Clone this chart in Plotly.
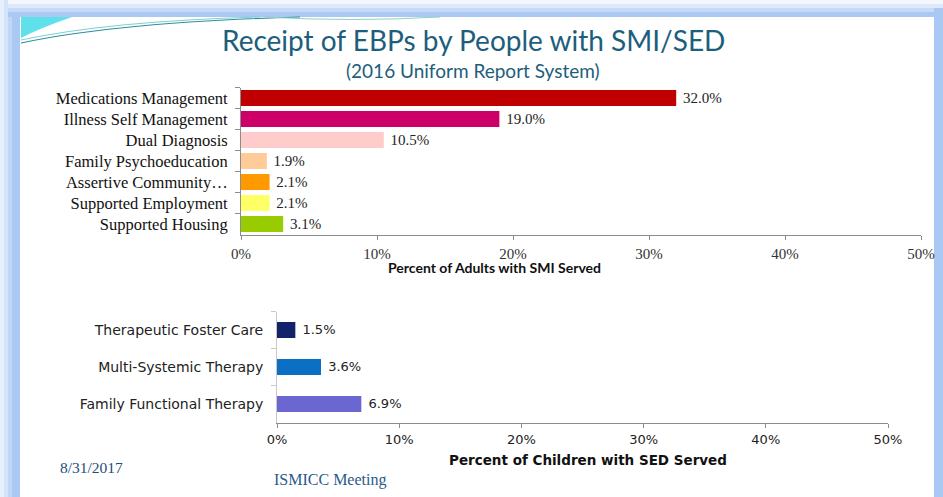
import plotly.graph_objects as go

W, H = 943, 497

# ---------------- data ----------------
adult_categories = ["Medications Management", "Illness Self Management", "Dual Diagnosis",
                    "Family Psychoeducation", "Assertive Community…", "Supported Employment",
                    "Supported Housing"]
adult_values = [32.0, 19.0, 10.5, 1.9, 2.1, 2.1, 3.1]
adult_colors = ["#c00000", "#cc0066", "#ffcccc", "#ffcc99", "#ff9900", "#ffff66", "#99cc00"]

child_categories = ["Therapeutic Foster Care", "Multi-Systemic Therapy", "Family Functional Therapy"]
child_values = [1.5, 3.6, 6.9]
child_colors = ["#14216b", "#0a70c4", "#6b66d0"]

tick_values = [0, 10, 20, 30, 40, 50]
tick_labels = ["0%", "10%", "20%", "30%", "40%", "50%"]


def X(px):
    return px / W


def Y(py):
    return 1 - py / H


fig = go.Figure()

fig.add_trace(go.Bar(
    x=adult_values, y=adult_categories, orientation="h",
    marker=dict(color=adult_colors, line=dict(width=0)),
    width=0.76,
    text=[f" {v:.1f}%" for v in adult_values], textposition="outside",
    textfont=dict(family="Liberation Serif", size=16, color="#222222"),
    cliponaxis=False, xaxis="x", yaxis="y", hoverinfo="skip",
))

fig.add_trace(go.Bar(
    x=child_values, y=child_categories, orientation="h",
    marker=dict(color=child_colors, line=dict(width=0)),
    width=0.43,
    text=[f" {v:.1f}%" for v in child_values], textposition="outside",
    textfont=dict(family="DejaVu Sans", size=13, color="#222222"),
    cliponaxis=False, xaxis="x2", yaxis="y2", hoverinfo="skip",
))

axis_line = "#8c8c8c"

fig.update_layout(
    width=W, height=H, autosize=False,
    margin=dict(l=0, r=0, t=0, b=0),
    paper_bgcolor="white", plot_bgcolor="rgba(0,0,0,0)",
    showlegend=False,
    xaxis=dict(domain=[X(241), X(921)], range=[0, 50], tickvals=tick_values, ticktext=tick_labels,
               showgrid=False, zeroline=False, showline=True, linecolor=axis_line, linewidth=1,
               ticks="outside", ticklen=4, tickcolor=axis_line, ticklabelstandoff=1,
               tickfont=dict(family="Liberation Serif", size=15, color="#333333"),
               anchor="y", fixedrange=True, automargin=False),
    yaxis=dict(domain=[Y(234.5), Y(87.5)], categoryorder="array", categoryarray=adult_categories,
               autorange="reversed", showgrid=False, zeroline=False, showline=True,
               linecolor=axis_line, linewidth=1, ticks="outside", ticklen=5, tickcolor=axis_line,
               tickson="boundaries", ticklabelstandoff=9,
               tickfont=dict(family="Liberation Serif", size=16.5, color="#111111"),
               anchor="x", fixedrange=True, automargin=False),
    xaxis2=dict(domain=[X(277), X(888)], range=[0, 50], tickvals=tick_values, ticktext=tick_labels,
                showgrid=False, zeroline=False, showline=True, linecolor=axis_line, linewidth=1,
                ticks="outside", ticklen=4, tickcolor=axis_line, ticklabelstandoff=1,
                tickfont=dict(family="DejaVu Sans", size=13, color="#222222"),
                anchor="y2", fixedrange=True, automargin=False),
    yaxis2=dict(domain=[Y(422.5), Y(311.5)], categoryorder="array", categoryarray=child_categories,
                autorange="reversed", showgrid=False, zeroline=False, showline=True,
                linecolor="#c8c8c8", linewidth=1, ticks="outside", ticklen=5, tickcolor="#c8c8c8",
                tickson="boundaries", ticklabelstandoff=10,
                tickfont=dict(family="DejaVu Sans", size=14, color="#222222"),
                anchor="x2", fixedrange=True, automargin=False),
)

annotations = [
    dict(text="Receipt of EBPs by People with SMI/SED", x=X(473), y=Y(40),
         font=dict(family="Lato", size=28, color="#1d5e7c")),
    dict(text="(2016 Uniform Report System)", x=X(473), y=Y(71),
         font=dict(family="Lato", size=19, color="#1d5e7c")),
    dict(text="<b>Percent of Adults with SMI Served</b>", x=X(494), y=Y(267),
         font=dict(family="Lato", size=14, color="#111111")),
    dict(text="<b>Percent of Children with SED Served</b>", x=X(588), y=Y(460),
         font=dict(family="DejaVu Sans", size=13.5, color="#111111")),
    dict(text="8/31/2017", x=X(91), y=Y(467),
         font=dict(family="Liberation Serif", size=15.5, color="#1f4e79")),
    dict(text="ISMICC Meeting", x=X(330), y=Y(480),
         font=dict(family="Liberation Serif", size=16, color="#2a5a88")),
]
for a in annotations:
    a.update(xref="paper", yref="paper", showarrow=False, xanchor="center", yanchor="middle")
fig.update_layout(annotations=annotations)

shapes = []
# slide frame (light blue gradient borders)
left_steps = [(0, 4, "#e6effc"), (4, 8, "#d3e3fa"), (8, 12, "#c0d6f7"), (12, 20, "#aac8f4")]
for x0, x1, c in left_steps:
    shapes.append(dict(type="rect", xref="paper", yref="paper", x0=X(x0), x1=X(x1), y0=0, y1=1,
                       fillcolor=c, line=dict(width=0), layer="below"))
top_steps = [(0, 4, "#f2f6fd"), (4, 8, "#dde9fb"), (8, 12, "#c6daf8"), (12, 17, "#aac8f4")]
for y0, y1, c in top_steps:
    shapes.append(dict(type="rect", xref="paper", yref="paper", x0=X(8), x1=1, y0=Y(y1), y1=Y(y0),
                       fillcolor=c, line=dict(width=0), layer="below"))
shapes.append(dict(type="rect", xref="paper", yref="paper", x0=X(934), x1=1, y0=0, y1=Y(8),
                   fillcolor="#aac8f4", line=dict(width=0), layer="below"))
# decorative swoosh top-left
shapes.append(dict(type="path", xref="paper", yref="paper",
                   path=f"M {X(21)},{Y(17)} L {X(72)},{Y(17)} Q {X(40)},{Y(28)} {X(21)},{Y(38)} Z",
                   fillcolor="#5fe0ea", line=dict(width=0), layer="below"))
shapes.append(dict(type="path", xref="paper", yref="paper",
                   path=f"M {X(21)},{Y(43)} Q {X(120)},{Y(22)} {X(300)},{Y(17)}",
                   line=dict(color="#2f8f9a", width=1.2), layer="below"))
shapes.append(dict(type="path", xref="paper", yref="paper",
                   path=f"M {X(21)},{Y(40)} Q {X(110)},{Y(21)} {X(260)},{Y(17)}",
                   line=dict(color="#7ccfd6", width=1), layer="below"))
shapes.append(dict(type="path", xref="paper", yref="paper",
                   path=f"M {X(265)},{Y(17)} Q {X(350)},{Y(22)} {X(440)},{Y(17)}",
                   line=dict(color="#8fd0c8", width=1), layer="below"))
fig.update_layout(shapes=shapes)

post = (
    "document.documentElement.style.margin='0';"
    "document.documentElement.style.overflow='hidden';"
    "document.body.style.margin='0';"
    "document.body.style.overflow='hidden';"
)
fig.write_html("out.html", config={"displayModeBar": False, "responsive": False},
               post_script=post)
